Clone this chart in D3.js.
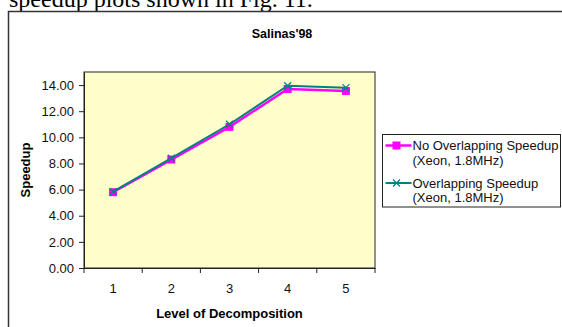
<!DOCTYPE html>
<html>
<head>
<meta charset="utf-8">
<script src="https://cdn.jsdelivr.net/npm/d3@7"></script>
<style>
  body { margin: 0; background: #fff; }
  text { font-family: Arial, "Liberation Sans", sans-serif; }
</style>
</head>
<body>
<script>
var levels = ["1", "2", "3", "4", "5"];
var noOverlap = [5.80, 8.30, 10.80, 13.70, 13.55];
var overlap = [5.85, 8.40, 11.00, 13.95, 13.80];
var yTicks = [0, 2, 4, 6, 8, 10, 12, 14];
var seriesNames = [
  ["No Overlapping Speedup", "(Xeon, 1.8MHz)"],
  ["Overlapping Speedup", "(Xeon, 1.8MHz)"]
];

var W = 562, H = 327;
var margin = {top: 72, left: 84, right: 187, bottom: 59};
var width = W - margin.left - margin.right,
    height = H - margin.top - margin.bottom;

var svg = d3.select("body").append("svg")
    .attr("width", W)
    .attr("height", H);

// page text cut off above the figure
svg.append("text")
    .attr("x", 9).attr("y", 7)
    .style("font-family", "'Liberation Serif', 'Times New Roman', serif")
    .style("font-size", "24px")
    .text("speedup plots shown in Fig. 11.");

// outer chart frame
svg.append("path")
    .attr("d", "M8.5," + H + " V11.5 H" + W)
    .attr("fill", "none")
    .attr("stroke", "#333")
    .attr("stroke-width", 1.5);

svg.append("text")
    .attr("x", 282).attr("y", 38)
    .attr("text-anchor", "middle")
    .style("font-size", "12.5px")
    .style("font-weight", "bold")
    .text("Salinas'98");

var g = svg.append("g")
    .attr("transform", "translate(" + margin.left + "," + margin.top + ")");

var x = d3.scaleBand().domain(levels).range([0, width]);
var y = d3.scaleLinear().domain([0, 15]).range([height, 0]);

g.append("rect")
    .attr("width", width).attr("height", height)
    .attr("fill", "#FFFFCC")
    .attr("stroke", "#222")
    .attr("stroke-width", 1);

var yAxis = g.append("g")
    .call(d3.axisLeft(y).tickValues(yTicks).tickSize(5).tickSizeOuter(0)
      .tickFormat(d3.format(".2f")));
var xAxis = g.append("g")
    .attr("transform", "translate(0," + height + ")")
    .call(d3.axisBottom(x).tickSize(0).tickPadding(16));
// category boundary ticks, like Excel
xAxis.selectAll(".edge")
    .data(d3.range(levels.length + 1))
    .enter().append("line")
    .attr("x1", function(i) { return i * x.step(); })
    .attr("x2", function(i) { return i * x.step(); })
    .attr("y1", 0).attr("y2", 5)
    .attr("stroke", "#222");

[yAxis, xAxis].forEach(function(a) {
  a.select(".domain").attr("stroke", "#222");
  a.selectAll(".tick line").attr("stroke", "#222");
  a.selectAll("text")
    .style("font-family", "Arial, 'Liberation Sans', sans-serif")
    .style("font-size", "13px")
    .attr("fill", "#111");
});
yAxis.selectAll("text").attr("x", -10);

g.append("text")
    .attr("transform", "translate(-54," + (height / 2) + ") rotate(-90)")
    .attr("text-anchor", "middle")
    .style("font-size", "13px")
    .style("font-weight", "bold")
    .text("Speedup");

g.append("text")
    .attr("x", width / 2).attr("y", height + 50)
    .attr("text-anchor", "middle")
    .style("font-size", "13px")
    .style("font-weight", "bold")
    .text("Level of Decomposition");

var cx = function(d, i) { return x(levels[i]) + x.bandwidth() / 2; };
var line = d3.line().x(cx).y(function(d) { return y(d); });

// no-overlap series: magenta with squares
g.append("path").datum(noOverlap)
    .attr("d", line)
    .attr("fill", "none")
    .attr("stroke", "#FF00FF")
    .attr("stroke-width", 2.5);
g.selectAll(".sq").data(noOverlap).enter().append("rect")
    .attr("x", function(d, i) { return cx(d, i) - 4; })
    .attr("y", function(d) { return y(d) - 4; })
    .attr("width", 8).attr("height", 8)
    .attr("fill", "#FF00FF");

// overlap series: teal with x marks
g.append("path").datum(overlap)
    .attr("d", line)
    .attr("fill", "none")
    .attr("stroke", "#008080")
    .attr("stroke-width", 2);
g.selectAll(".xm").data(overlap).enter().append("path")
    .attr("d", function(d, i) {
      var px = cx(d, i), py = y(d), r = 3.5;
      return "M" + (px - r) + "," + (py - r) + "L" + (px + r) + "," + (py + r) +
             "M" + (px - r) + "," + (py + r) + "L" + (px + r) + "," + (py - r);
    })
    .attr("stroke", "#008080")
    .attr("stroke-width", 1.2);

// legend
var lg = svg.append("g").attr("transform", "translate(382.5,134.5)");
lg.append("rect")
    .attr("width", 178).attr("height", 72.5)
    .attr("fill", "#fff")
    .attr("stroke", "#222");

var rows = [
  {color: "#FF00FF", sym: "square", y: 11},
  {color: "#008080", sym: "x", y: 48.5}
];
rows.forEach(function(r, k) {
  var row = lg.append("g").attr("transform", "translate(0," + r.y + ")");
  row.append("line")
      .attr("x1", 3).attr("x2", 29)
      .attr("stroke", r.color)
      .attr("stroke-width", k === 0 ? 2.5 : 2);
  if (r.sym === "square") {
    row.append("rect").attr("x", 10).attr("y", -4)
        .attr("width", 8).attr("height", 8).attr("fill", r.color);
  } else {
    row.append("path")
        .attr("d", "M10.5,-3.5L17.5,3.5M10.5,3.5L17.5,-3.5")
        .attr("stroke", r.color).attr("stroke-width", 1.2);
  }
  seriesNames[k].forEach(function(t, j) {
    row.append("text")
        .attr("x", 30).attr("y", 4.5 + j * 14.5)
        .style("font-size", "13px")
        .attr("fill", "#111")
        .text(t);
  });
});
</script>
</body>
</html>
